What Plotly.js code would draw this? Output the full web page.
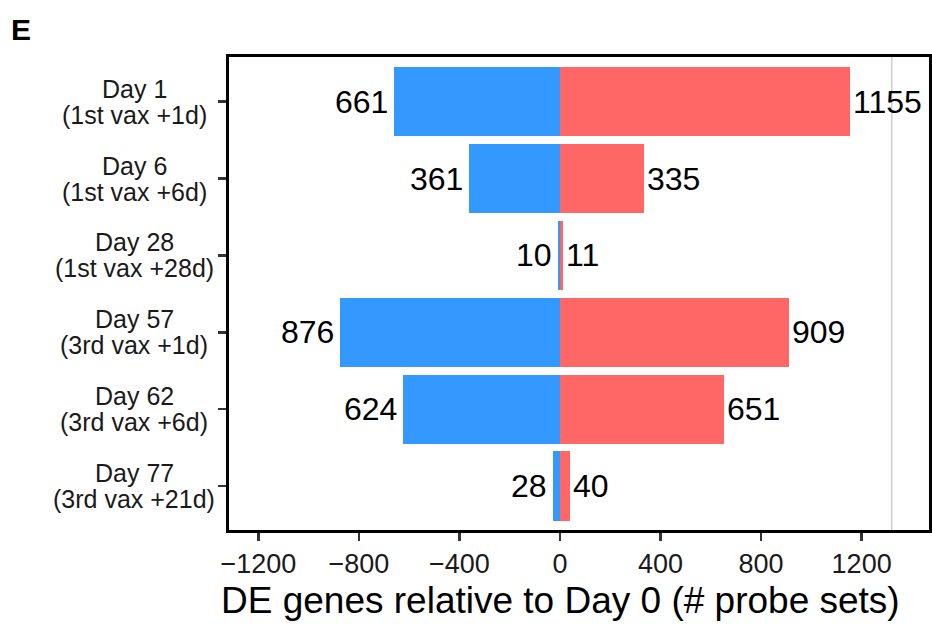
<!DOCTYPE html>
<html>
<head>
<meta charset="utf-8">
<script src="https://cdn.plot.ly/plotly-3.0.1.min.js"></script>
<style>html,body{margin:0;padding:0;background:#fff;}#chart{width:932px;height:624px;}</style>
</head>
<body>
<div id="chart"></div>
<script>
// ---- data ----
const categories = ["Day 1", "Day 6", "Day 28", "Day 57", "Day 62", "Day 77"];
const subLabels = ["(1st vax +1d)", "(1st vax +6d)", "(1st vax +28d)", "(3rd vax +1d)", "(3rd vax +6d)", "(3rd vax +21d)"];
const downRegulated = [661, 361, 10, 876, 624, 28];
const upRegulated = [1155, 335, 11, 909, 651, 40];
const xTickValues = [-1200, -800, -400, 0, 400, 800, 1200];
const refLineX = 1320;
const panelLetter = "E";
const xTitle = "DE genes relative to Day 0 (# probe sets)";

// ---- styling ----
const FONT = "Liberation Sans, Arial, Helvetica, sans-serif";
const BLUE = "#3399FF";
const RED = "#FF6666";

const traces = [
  {
    type: "bar", orientation: "h",
    y: categories, x: downRegulated.map(v => -v),
    marker: {color: BLUE, line: {width: 0}},
    width: 0.9, hoverinfo: "skip", showlegend: false
  },
  {
    type: "bar", orientation: "h",
    y: categories, x: upRegulated,
    marker: {color: RED, line: {width: 0}},
    width: 0.9, hoverinfo: "skip", showlegend: false
  }
];

const annotations = [];
categories.forEach((c, i) => {
  annotations.push({
    x: -downRegulated[i], y: c, xref: "x", yref: "y",
    text: String(downRegulated[i]), showarrow: false,
    xanchor: "right", yanchor: "middle", xshift: -4,
    font: {family: FONT, size: 32, color: "#000"}
  });
  annotations.push({
    x: upRegulated[i], y: c, xref: "x", yref: "y",
    text: String(upRegulated[i]), showarrow: false,
    xanchor: "left", yanchor: "middle", xshift: 1,
    font: {family: FONT, size: 32, color: "#000"}
  });
  annotations.push({
    x: -0.1357, y: c, xref: "paper", yref: "y",
    text: c, showarrow: false, xanchor: "center", yanchor: "middle",
    yshift: 13, font: {family: FONT, size: 25, color: "#1a1a1a"}
  });
  annotations.push({
    x: -0.1357, y: c, xref: "paper", yref: "y",
    text: subLabels[i], showarrow: false, xanchor: "center", yanchor: "middle",
    yshift: -13, font: {family: FONT, size: 25, color: "#1a1a1a"}
  });
});
annotations.push({
  x: 0.473, y: -0.148, xref: "paper", yref: "paper",
  text: xTitle, showarrow: false, xanchor: "center", yanchor: "middle",
  font: {family: FONT, size: 37, color: "#000"}
});
annotations.push({
  x: -0.315, y: 1.058, xref: "paper", yref: "paper",
  text: "<b>" + panelLetter + "</b>", showarrow: false, xanchor: "left", yanchor: "middle",
  font: {family: FONT, size: 30, color: "#000"}
});

const layout = {
  width: 932, height: 624,
  margin: {l: 229, r: 3, t: 57, b: 94, pad: 0},
  paper_bgcolor: "#fff", plot_bgcolor: "#fff",
  barmode: "overlay", bargap: 0,
  font: {family: FONT, color: "#000"},
  xaxis: {
    range: [-1317, 1468], autorange: false,
    tickvals: xTickValues, ticktext: xTickValues.map(v => v < 0 ? "\u2212" + Math.abs(v) : String(v)),
    ticks: "outside", ticklen: 8, tickwidth: 2.5, tickcolor: "#333",
    tickfont: {family: FONT, size: 27, color: "#1a1a1a"},
    showline: true, linecolor: "#000", linewidth: 2.7, mirror: true,
    showgrid: false, zeroline: false, fixedrange: true
  },
  yaxis: {
    type: "category", categoryorder: "array", categoryarray: categories,
    range: [5.572, -0.582], autorange: false,
    ticks: "outside", ticklen: 8, tickwidth: 2.5, tickcolor: "#333",
    showticklabels: false,
    showline: true, linecolor: "#000", linewidth: 2.7, mirror: true,
    showgrid: false, zeroline: false, fixedrange: true
  },
  shapes: [{
    type: "line", xref: "x", yref: "paper",
    x0: refLineX, x1: refLineX, y0: 0, y1: 1,
    line: {color: "#b5b5b5", width: 1}, layer: "below"
  }],
  annotations: annotations
};

Plotly.newPlot("chart", traces, layout, {staticPlot: true, displayModeBar: false});
</script>
</body>
</html>
